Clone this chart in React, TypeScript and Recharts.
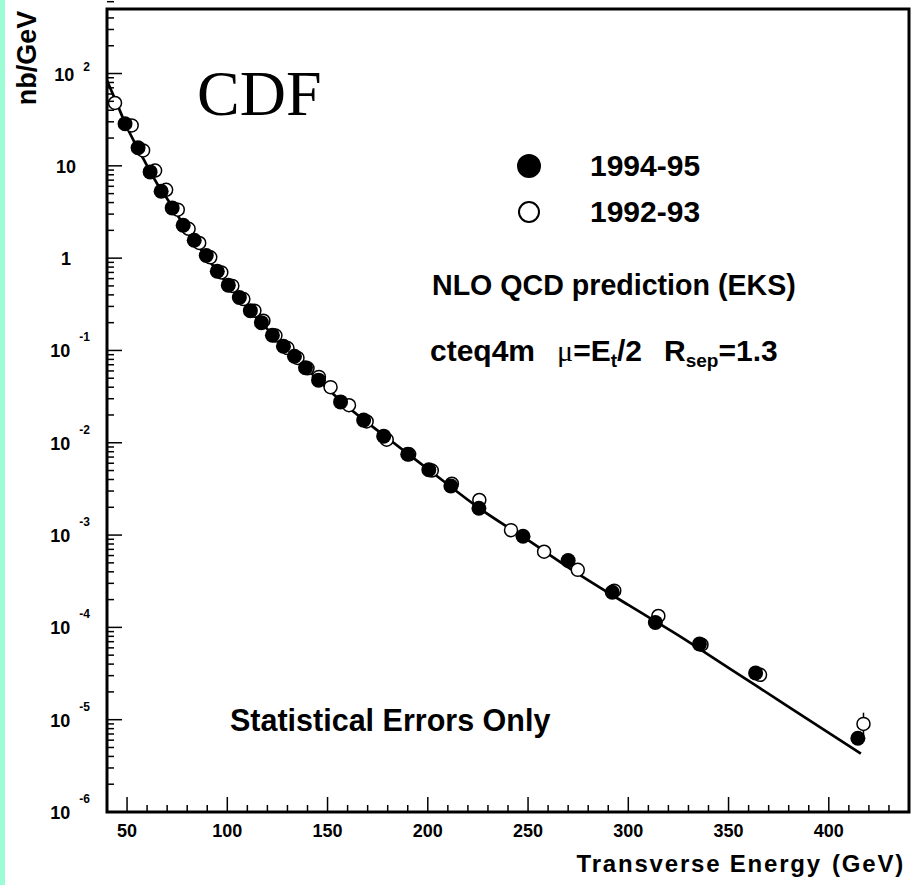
import React from 'react'
import { ComposedChart, XAxis, YAxis, Scatter, Line, Legend, ErrorBar, ReferenceArea } from 'recharts'

// 1994-95 inclusive jet cross section (filled markers)
const run1bEt = [
  49, 55.5, 61.5, 67, 72.5, 78, 83.5, 89.5, 95, 100.5, 106, 111.5, 117, 122.5, 128, 133.5,
  139, 145.5, 156.5, 168, 178, 190, 200.5, 211.5, 225.5, 247.5, 270, 292, 313.5, 335.5, 363.5,
  414.5,
]
const run1bXsec = [
  28.6, 15.7, 8.6, 5.3, 3.5, 2.27, 1.56, 1.07, 0.72, 0.51, 0.375, 0.27, 0.2, 0.146, 0.111,
  0.0865, 0.065, 0.0477, 0.0277, 0.0176, 0.0118, 0.0075, 0.0051, 0.0034, 0.00195, 0.00097,
  0.00053, 0.00024, 0.000113, 6.6e-5, 3.2e-5, 6.3e-6,
]

// 1992-93 inclusive jet cross section (open markers)
const run1aEt = [
  44, 52.3, 58, 64, 69.5, 75.3, 80.7, 86, 91.5, 97, 102.5, 108, 113.5, 118, 124, 130, 135, 140,
  145.7, 151.5, 160.7, 169.5, 179.5, 190.7, 202, 212, 225.7, 241.5, 258, 274.8, 293, 315, 336.5,
  365.7, 417.3,
]
const run1aXsec = [
  48, 27.4, 14.7, 8.9, 5.5, 3.35, 2.08, 1.46, 1.02, 0.7, 0.5, 0.36, 0.27, 0.21, 0.145, 0.106,
  0.083, 0.064, 0.0517, 0.04, 0.0255, 0.017, 0.0108, 0.0075, 0.005, 0.0036, 0.0024, 0.00113,
  0.00066, 0.00042, 0.00025, 0.000133, 6.5e-5, 3.06e-5, 9.0e-6,
]
// only the highest bin has an error bar sticking out of its marker
const run1aErr = [
  0, 0, 0, 0, 0, 0, 0, 0, 0, 0, 0, 0, 0, 0, 0, 0, 0, 0, 0, 0, 0, 0, 0, 0, 0, 0, 0, 0, 0, 0, 0, 0,
  0, 0, 2.9e-6,
]

// NLO QCD (EKS) prediction
const nloEt = [
  40, 45, 50, 55, 60, 65, 70, 80, 90, 100, 110, 120, 130, 140, 150, 160, 180, 200, 225, 250, 275,
  300, 325, 350, 375, 400, 416,
]
const nloXsec = [
  84, 47, 26, 16, 10, 6.4, 4.4, 2.0, 1.0, 0.53, 0.29, 0.17, 0.102, 0.062, 0.0385, 0.0245,
  0.0112, 0.0052, 0.002, 0.00088, 0.00038, 0.000175, 8.2e-5, 3.65e-5, 1.62e-5, 7.2e-6, 4.3e-6,
]

const xTicks = [
  50, 60, 70, 80, 90, 100, 110, 120, 130, 140, 150, 160, 170, 180, 190, 200, 210, 220, 230, 240,
  250, 260, 270, 280, 290, 300, 310, 320, 330, 340, 350, 360, 370, 380, 390, 400, 410, 420, 430,
]
const yDecades = [1e-6, 1e-5, 1e-4, 1e-3, 1e-2, 1e-1, 1, 10, 100]
const yMinor = [2, 3, 4, 5, 6, 7, 8, 9]
const yTicks: number[] = []
yDecades.forEach((d) => {
  yTicks.push(d)
  yMinor.forEach((m) => yTicks.push(m * d))
})

const X_DOMAIN = [40, 440]
const Y_DOMAIN = [1e-6, 500]

const run1b = run1bEt.map((e, i) => ({ e, v: run1bXsec[i] }))
const run1a = run1aEt.map((e, i) => ({ e, v: run1aXsec[i], err: run1aErr[i] }))
const nlo = nloEt.map((e, i) => ({ e, v: nloXsec[i] }))

const W = 911
const H = 885
const margin = { top: 9, right: 2, bottom: 0, left: 0 }

const FONT = '"Liberation Sans", Arial, Helvetica, sans-serif'
const SERIF = '"Liberation Serif", "Times New Roman", serif'

// keep the page from scrolling and the svgs from leaving line-box slack
const PAGE_CSS = `
html, body { margin: 0; padding: 0; overflow: hidden; }
svg { display: block; }
`

const XTick = (props: any) => {
  const { x, y, payload } = props
  const major = payload.value % 50 === 0
  return (
    <g>
      <line x1={x} x2={x} y1={y} y2={y - (major ? 15 : 7)} stroke="#000" strokeWidth={1.5} />
      {major && (
        <text x={x} y={y + 25} textAnchor="middle" fontFamily={FONT} fontWeight="bold" fontSize={18} fill="#000">
          {payload.value}
        </text>
      )}
    </g>
  )
}

const YTick = (props: any) => {
  const { x, y, payload } = props
  const v = payload.value
  const exp = Math.round(Math.log10(v))
  const major = Math.abs(v / Math.pow(10, exp) - 1) < 1e-6
  let label = null
  if (major) {
    if (exp === 0 || exp === 1) {
      label = (
        <text x={x - 41} y={y + 7} textAnchor="middle" fontFamily={FONT} fontWeight="bold" fontSize={18} fill="#000">
          {exp === 0 ? '1' : '10'}
        </text>
      )
    } else {
      const up = exp > 0 ? -10 : -16
      label = (
        <text x={x - 17} y={y + 7} textAnchor="end" fontFamily={FONT} fontWeight="bold" fontSize={18} fill="#000">
          10
          <tspan dx={9} dy={up} fontSize={12}>
            {exp}
          </tspan>
        </text>
      )
    }
  }
  return (
    <g>
      <line x1={x} x2={x + (major ? 15 : 7)} y1={y} y2={y} stroke="#000" strokeWidth={1.5} />
      {label}
    </g>
  )
}

const FilledDot = (props: any) => <circle cx={props.cx} cy={props.cy} r={7.5} fill="#000" />
const OpenDot = (props: any) => (
  <circle cx={props.cx} cy={props.cy} r={6.5} fill="#fff" stroke="#000" strokeWidth={1.5} />
)

const renderLegend = (props: any) => {
  const items = (props.payload || [])
    .filter((p: any) => p.type !== 'none')
    .sort((a: any, b: any) => (a.value < b.value ? 1 : -1))
  return (
    <div>
      {items.map((item: any) => (
        <div key={item.value} style={{ display: 'flex', alignItems: 'center', height: 46 }}>
          <svg width={24} height={24}>
            <circle cx={12} cy={12} r={item.color === '#000' ? 11 : 10} fill={item.color} stroke="#000" strokeWidth={2} />
          </svg>
          <span
            style={{
              marginLeft: 49,
              fontFamily: FONT,
              fontWeight: 'bold',
              fontSize: 30,
              lineHeight: '46px',
              color: '#000',
            }}
          >
            {item.value}
          </span>
        </div>
      ))}
    </div>
  )
}

export default function App() {
  return (
    <div style={{ position: 'absolute', left: 0, top: 0, width: W, height: H, background: '#fff', overflow: 'hidden' }}>
      <style>{PAGE_CSS}</style>
      <div style={{ position: 'absolute', left: 0, top: 0, width: 5, height: H, background: '#9bfcd6' }} />
      <ComposedChart width={W} height={H} margin={margin}>
        <XAxis
          dataKey="e"
          type="number"
          domain={X_DOMAIN}
          allowDataOverflow
          ticks={xTicks}
          interval={0}
          tick={<XTick />}
          tickLine={false}
          axisLine={false}
          tickSize={0}
          tickMargin={0}
          height={73}
        />
        <YAxis
          dataKey="v"
          type="number"
          scale="log"
          domain={Y_DOMAIN}
          allowDataOverflow
          ticks={yTicks}
          interval={0}
          tick={<YTick />}
          tickLine={false}
          axisLine={false}
          tickSize={0}
          tickMargin={0}
          width={107}
        />
        {/* plot box */}
        <ReferenceArea
          x1={X_DOMAIN[0]}
          x2={X_DOMAIN[1]}
          y1={Y_DOMAIN[0]}
          y2={Y_DOMAIN[1]}
          fill="none"
          fillOpacity={0}
          stroke="#000"
          strokeWidth={3}
          ifOverflow="visible"
        />
        <Legend
          layout="vertical"
          align="center"
          verticalAlign="middle"
          content={renderLegend}
          wrapperStyle={{ left: 517, top: 143, width: 230 }}
        />
        <Scatter name="1992-93" data={run1a} dataKey="v" fill="#fff" shape={<OpenDot />} isAnimationActive={false}>
          <ErrorBar dataKey="err" direction="y" width={0} stroke="#000" strokeWidth={1.5} />
        </Scatter>
        <Line
          name="NLO QCD prediction (EKS)"
          data={nlo}
          dataKey="v"
          type="monotone"
          stroke="#000"
          strokeWidth={2.7}
          dot={false}
          legendType="none"
          isAnimationActive={false}
        />
        <Scatter name="1994-95" data={run1b} dataKey="v" fill="#000" shape={<FilledDot />} isAnimationActive={false} />
      </ComposedChart>
      <svg width={W} height={H} style={{ position: 'absolute', left: 0, top: 0, pointerEvents: 'none' }}>
        <text x={197} y={115} fontFamily={SERIF} fontSize={64} fill="#000">
          CDF
        </text>
        <text x={432} y={295} fontFamily={FONT} fontWeight="bold" fontSize={28.6} fill="#000">
          NLO QCD prediction (EKS)
        </text>
        <text x={430} y={361} fontFamily={FONT} fontWeight="bold" fontSize={30} fill="#000">
          cteq4m
          <tspan dx={22} fontFamily={SERIF} fontWeight="normal">
            μ
          </tspan>
          <tspan>=E</tspan>
          <tspan dy={6} fontSize={19}>
            t
          </tspan>
          <tspan dy={-6}>/2</tspan>
          <tspan dx={22}>R</tspan>
          <tspan dy={6} fontSize={19}>
            sep
          </tspan>
          <tspan dy={-6}>=1.3</tspan>
        </text>
        <text x={230} y={731} fontFamily={FONT} fontWeight="bold" fontSize={30.5} fill="#000">
          Statistical Errors Only
        </text>
        <text
          x={0}
          y={0}
          transform="translate(36,58) rotate(-90)"
          textAnchor="middle"
          fontFamily={FONT}
          fontWeight="bold"
          fontSize={27}
          fill="#000"
        >
          nb/GeV
        </text>
        <text x={905} y={872} textAnchor="end" fontFamily={FONT} fontWeight="bold" fontSize={24} letterSpacing={1.8} fill="#000">
          Transverse Energy
          <tspan dx={10}>(GeV)</tspan>
        </text>
      </svg>
    </div>
  )
}
